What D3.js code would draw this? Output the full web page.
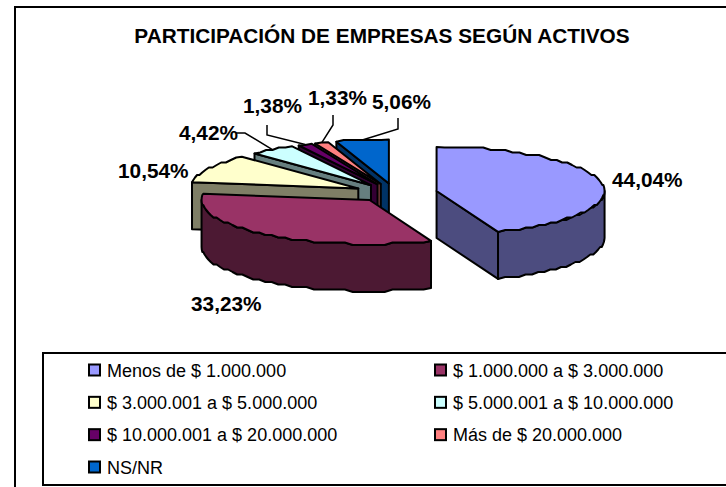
<!DOCTYPE html>
<html><head><meta charset="utf-8">
<script src="https://cdn.jsdelivr.net/npm/d3@7"></script>
<style>html,body{margin:0;padding:0;background:#fff}svg{display:block}text{font-family:"Liberation Sans",Arial,sans-serif;fill:#000}</style>
</head><body><div id="c"></div>
<script>
const chartTitle = "PARTICIPACIÓN DE EMPRESAS SEGÚN ACTIVOS";
const categories = ["Menos de $ 1.000.000","$ 1.000.000 a $ 3.000.000","$ 3.000.001 a $ 5.000.000","$ 5.000.001 a $ 10.000.000","$ 10.000.001 a $ 20.000.000","Más de $ 20.000.000","NS/NR"];
const values = [44.04,33.23,10.54,4.42,1.38,1.33,5.06];
const valueLabels = ["44,04%","33,23%","10,54%","4,42%","1,38%","1,33%","5,06%"];
const colors = ["#9999FF","#993366","#FFFFCC","#CCFFFF","#660066","#FF8080","#0066CC"];
const wallColors = ["#4C4C7F","#4C1933","#7F7F66","#667F7F","#330033","#7F4040","#003366"];

// layout
const W=726,H=487;
const cx=395.5, cy=192.7, rx=168, ry=44, depth=47, explodeX=41.8, explodeY=9.3;
const labelPos=[[612,187],[191,311],[118,178],[179,140],[243,113],[308,105],[372,109]];
const leaderElbows=[null,null,null,[[236,133],[245,133]],[[267,125],[267,135]],[[333,115],[333,125]],[[398,118],[398,129]]];
const drawOrder=[6,5,4,3,2,0,1];

const svg=d3.select("#c").append("svg").attr("width",W).attr("height",H);
svg.append("rect").attr("width",W).attr("height",H).attr("fill","#fff");
svg.append("rect").attr("x",15).attr("y",7).attr("width",W+20).attr("height",H+20).attr("fill","#fff").attr("stroke","#000").attr("stroke-width",2);
svg.append("text").attr("x",382).attr("y",43).attr("text-anchor","middle").attr("font-weight","bold").attr("font-size",20.8).text(chartTitle);

const arcs=d3.pie().sort(null).startAngle(0).endAngle(2*Math.PI)(values);
const line=d3.line();
const snap=(v,g)=>Math.round(v/g)*g;
const centre=a=>{const m=(a.startAngle+a.endAngle)/2;return [cx+explodeX*Math.sin(m),cy-explodeY*Math.cos(m)];};
const rim=(c,t)=>[c[0]+rx*Math.sin(t),c[1]-ry*Math.cos(t)];
function rimPts(c,a0,a1){
  const n=Math.max(2,Math.ceil(rx*(a1-a0)/8));
  const pts=d3.range(n+1).map(i=>{const p=rim(c,a0+(a1-a0)*i/n);
    return (i===0||i===n)?p:[p[0],snap(p[1],2.5)];});
  return pts;
}
const g=svg.append("g").attr("stroke","#000").attr("stroke-width",2).attr("stroke-linejoin","round");
drawOrder.forEach(i=>{
  const a=arcs[i],c=centre(a),s=g.append("g");
  const down=p=>[p[0],p[1]+depth];
  const radial=t=>{const r=rim(c,t);s.append("path").attr("fill",wallColors[i]).attr("d",line([c,r,down(r),down(c)])+"Z");};
  if(Math.sin(a.startAngle)<-1e-6) radial(a.startAngle);
  if(Math.sin(a.endAngle)>1e-6) radial(a.endAngle);
  const f0=Math.max(a.startAngle,Math.PI/2),f1=Math.min(a.endAngle,3*Math.PI/2);
  if(f1>f0){const top=rimPts(c,f0,f1);s.append("path").attr("fill",wallColors[i]).attr("d",line(top.concat(top.map(down).reverse()))+"Z");}
  s.append("path").attr("fill",colors[i]).attr("d",line([c].concat(rimPts(c,a.startAngle,a.endAngle)))+"Z");
});

// leader lines
arcs.forEach((a,i)=>{
  if(!leaderElbows[i])return;
  const m=(a.startAngle+a.endAngle)/2, p=rim(centre(a),m);
  svg.append("path").attr("fill","none").attr("stroke","#000").attr("stroke-width",1.5).attr("d",line(leaderElbows[i].concat([p])));
});
// labels
svg.selectAll("text.v").data(valueLabels).enter().append("text").attr("class","v")
  .attr("x",(d,i)=>labelPos[i][0]).attr("y",(d,i)=>labelPos[i][1])
  .attr("font-weight","bold").attr("font-size",20.8).text(d=>d);

// legend
svg.append("rect").attr("x",43).attr("y",353).attr("width",W).attr("height",132).attr("fill","#fff").attr("stroke","#000").attr("stroke-width",2);
const colX=d3.scalePoint().domain([0,1]).range([89,435]);
const rowY=d3.scaleLinear().domain([0,3]).range([370,467]);
const leg=svg.selectAll("g.l").data(categories).enter().append("g").attr("class","l")
  .attr("transform",(d,i)=>`translate(${colX(i%2)},${rowY(Math.floor(i/2))})`);
leg.append("rect").attr("x",0).attr("y",-5.5).attr("width",11).attr("height",11).attr("fill",(d,i)=>colors[i]).attr("stroke","#000").attr("stroke-width",2);
leg.append("text").attr("x",18).attr("y",6.5).attr("font-size",18).text(d=>d);
</script></body></html>
